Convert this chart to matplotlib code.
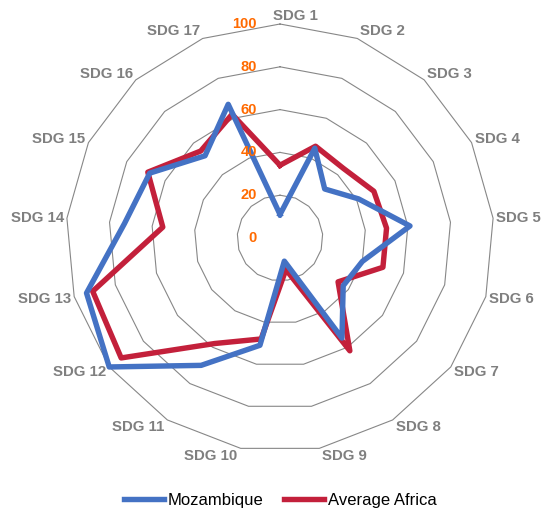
import numpy as np
import matplotlib
matplotlib.use("Agg")
import matplotlib.pyplot as plt

plt.rcParams['font.family'] = ['Liberation Sans', 'DejaVu Sans']

categories = ["SDG 1", "SDG 2", "SDG 3", "SDG 4", "SDG 5", "SDG 6", "SDG 7", "SDG 8",
              "SDG 9", "SDG 10", "SDG 11", "SDG 12", "SDG 13", "SDG 14", "SDG 15",
              "SDG 16", "SDG 17"]
mozambique = [11, 45, 31, 41, 61, 40, 37, 55, 11, 51, 70, 100, 94, 73, 68, 52, 67]
africa = [34, 46, 44, 49, 50, 50, 34, 62, 15, 48, 58, 93, 91, 55, 69, 55, 62]
ticks = [0, 20, 40, 60, 80, 100]

W, H = 542, 514
cx, cy, R = 280, 238, 214

fig = plt.figure(figsize=(W / 100, H / 100), dpi=100)
ax = fig.add_axes([(cx - R) / W, (H - cy - R) / H, 2 * R / W, 2 * R / H], projection='polar')
ax.set_theta_zero_location('N')
ax.set_theta_direction(-1)
ax.set_ylim(0, 100)
ax.grid(False)
ax.spines['polar'].set_visible(False)
ax.set_xticks([])
ax.set_yticks([])

n = len(categories)
theta = np.arange(n) * 2 * np.pi / n
theta_c = np.append(theta, theta[0])

grid_col = '#878787'
for r in ticks[1:]:
    ax.plot(theta_c, [r] * (n + 1), color=grid_col, lw=0.8, zorder=1, clip_on=False)

l_af, = ax.plot(theta_c, africa + africa[:1], color='#C3203B', lw=3.9,
                solid_joinstyle='round', zorder=3, clip_on=False, label='Average Africa')
l_mz, = ax.plot(theta_c, mozambique + mozambique[:1], color='#4472C4', lw=3.9,
                solid_joinstyle='round', zorder=4, clip_on=False, label='Mozambique')

for v in ticks:
    ax.annotate(str(v), xy=(0, v), xytext=(-23, 0), textcoords='offset pixels',
                ha='right', va='center', color='#FF6A00', fontweight='bold',
                fontsize=10.5, zorder=5, annotation_clip=False)

for i, (t, lab) in enumerate(zip(theta, categories)):
    s, c = np.sin(t), np.cos(t)
    if i == 0:
        ha, dx = 'left', -7
    elif s > 0:
        ha, dx = 'left', 3
    else:
        ha, dx = 'right', -3
    dy = 8 * c
    ax.annotate(lab, xy=(t, 100), xytext=(dx, dy), textcoords='offset pixels',
                ha=ha, va='center', color='#7F7F7F', fontweight='bold',
                fontsize=10.8, annotation_clip=False)

fig.legend(handles=[l_mz, l_af], loc='center', bbox_to_anchor=(280 / W, 1 - 500 / H),
           ncol=2, frameon=False, fontsize=12, handlelength=2.4, handletextpad=0.25,
           columnspacing=1.2)

fig.savefig('out.png', dpi=100)
